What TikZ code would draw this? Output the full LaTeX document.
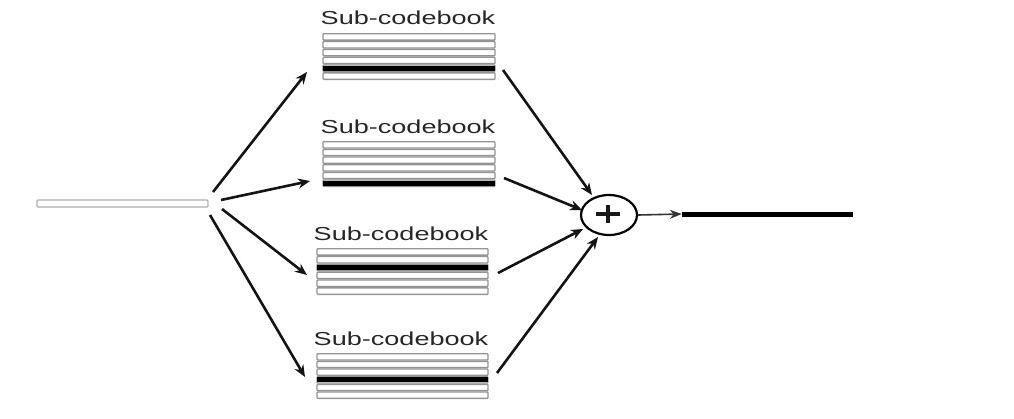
\documentclass[tikz,border=0pt]{standalone}
\usepackage{fontspec}
\setmainfont{Liberation Sans}
\usepackage{graphicx}
\usetikzlibrary{arrows.meta,shapes.geometric}
\newcommand\cbook[6]{% name, x-centre, y-centre, width, height, black row
  \node[inner sep=0pt, minimum width=#4pt, minimum height=#5pt] (#1) at (#2,#3) {};
  \foreach \i in {1,...,6} {
    \pgfmathsetmacro\ya{#3-#5/2+(\i-1)*#5/6+0.7}
    \pgfmathsetmacro\yb{\ya+#5/6-1.4}
    \draw[cbrow] (#2-#4/2,\ya) rectangle (#2+#4/2,\yb);
  }
  \pgfmathsetmacro\yc{#3-#5/2+(#6-1)*#5/6+#5/12}
  \fill[black] (#2-#4/2,\yc-2.6) rectangle (#2+#4/2,\yc+2.6);
}
\begin{document}
\begin{tikzpicture}[x=1pt,y=-1pt,
  arr/.style={line width=2.6pt, draw=black!92, -{Stealth[length=12pt,width=10pt]}},
  lbl/.style={font=\fontsize{18.8}{20}\selectfont, text=black!85, inner sep=0pt},
  cbrow/.style={draw=black!42, line width=1.4pt, fill=white, rounded corners=0.8pt},
  ]
\useasboundingbox (0,0) rectangle (1014,418);

% input bar
\node[draw=black!32, line width=1.3pt, fill=white, rounded corners=1pt,
      minimum width=171pt, minimum height=7pt, inner sep=0pt] (in) at (122.5,203.5) {};

% codebooks
\cbook{cb1}{409}{56.5}{172}{47}{5}
\cbook{cb2}{409}{164}{172}{46}{6}
\cbook{cb3}{402.5}{271.5}{171}{47}{3}
\cbook{cb4}{402.5}{376}{171}{46}{4}

% labels
\node[lbl] (l1) at (408,18) {\scalebox{1.44}[1]{Sub-codebook}};
\node[lbl] (l2) at (408,127) {\scalebox{1.44}[1]{Sub-codebook}};
\node[lbl] (l3) at (401,234) {\scalebox{1.44}[1]{Sub-codebook}};
\node[lbl] (l4) at (401,339) {\scalebox{1.44}[1]{Sub-codebook}};

% sum node
\node[draw, ellipse, line width=2.2pt, minimum width=56pt, minimum height=40pt, inner sep=0pt] (sum) at (609,215) {};
\coordinate (pc) at (608,214);
\draw[line width=3.6pt, black!90] ([xshift=-12pt]pc) -- ([xshift=12pt]pc)
      ([yshift=-9pt]pc) -- ([yshift=9pt]pc);

% output bar
\node[fill=black, minimum width=171pt, minimum height=5pt, inner sep=0pt] (out) at (767.5,214) {};

% fan-out start/end points
\coordinate (s1) at (213,192);
\coordinate (s2) at (221,200);
\coordinate (s3) at (222,209);
\coordinate (s4) at (210,215);
\coordinate (t1) at (307,72);
\coordinate (t2) at (310,181);
\coordinate (t3) at (307,275);
\coordinate (t4) at (305,377);
\draw[arr] (s1) -- (t1);
\draw[arr] (s2) -- (t2);
\draw[arr] (s3) -- (t3);
\draw[arr] (s4) -- (t4);

% fan-in
\coordinate (u1) at (503,70);
\coordinate (u2) at (504,178);
\coordinate (u3) at (498,273);
\coordinate (u4) at (497,373);
\coordinate (v1) at (592,195);
\coordinate (v2) at (582,210);
\coordinate (v3) at (583,229);
\coordinate (v4) at (598,237);
\draw[arr] (u1) -- (v1);
\draw[arr] (u2) -- (v2);
\draw[arr] (u3) -- (v3);
\draw[arr] (u4) -- (v4);

% output arrow
\draw[line width=1.6pt, draw=black!80, -{Stealth[length=12pt,width=9pt]}] (sum.east) -- (out.west);
\end{tikzpicture}
\end{document}
